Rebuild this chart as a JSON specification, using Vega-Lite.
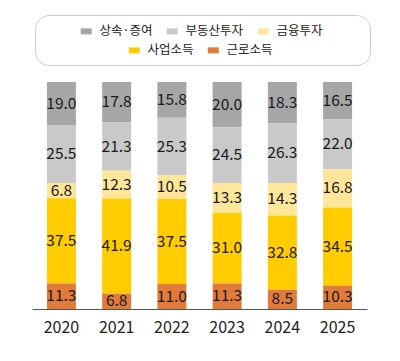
{
 "$schema": "https://vega.github.io/schema/vega-lite/v6.json",
 "width": 335, "height": 227,
 "autosize": "none",
 "padding": {"left": 32, "top": 82, "right": 33, "bottom": 52},
 "background": "white",
 "config": {"view": {"stroke": null}, "font": "Noto Sans CJK KR", "legend": {"gradientHorizontalMaxLength": 400}},
 "data": {"values": [
  {"year": "2020", "cat": "상속·증여", "value": 19.0},
  {"year": "2020", "cat": "부동산투자", "value": 25.5},
  {"year": "2020", "cat": "금융투자", "value": 6.8},
  {"year": "2020", "cat": "사업소득", "value": 37.5},
  {"year": "2020", "cat": "근로소득", "value": 11.3},
  {"year": "2021", "cat": "상속·증여", "value": 17.8},
  {"year": "2021", "cat": "부동산투자", "value": 21.3},
  {"year": "2021", "cat": "금융투자", "value": 12.3},
  {"year": "2021", "cat": "사업소득", "value": 41.9},
  {"year": "2021", "cat": "근로소득", "value": 6.8},
  {"year": "2022", "cat": "상속·증여", "value": 15.8},
  {"year": "2022", "cat": "부동산투자", "value": 25.3},
  {"year": "2022", "cat": "금융투자", "value": 10.5},
  {"year": "2022", "cat": "사업소득", "value": 37.5},
  {"year": "2022", "cat": "근로소득", "value": 11.0},
  {"year": "2023", "cat": "상속·증여", "value": 20.0},
  {"year": "2023", "cat": "부동산투자", "value": 24.5},
  {"year": "2023", "cat": "금융투자", "value": 13.3},
  {"year": "2023", "cat": "사업소득", "value": 31.0},
  {"year": "2023", "cat": "근로소득", "value": 11.3},
  {"year": "2024", "cat": "상속·증여", "value": 18.3},
  {"year": "2024", "cat": "부동산투자", "value": 26.3},
  {"year": "2024", "cat": "금융투자", "value": 14.3},
  {"year": "2024", "cat": "사업소득", "value": 32.8},
  {"year": "2024", "cat": "근로소득", "value": 8.5},
  {"year": "2025", "cat": "상속·증여", "value": 16.5},
  {"year": "2025", "cat": "부동산투자", "value": 22.0},
  {"year": "2025", "cat": "금융투자", "value": 16.8},
  {"year": "2025", "cat": "사업소득", "value": 34.5},
  {"year": "2025", "cat": "근로소득", "value": 10.3}
 ]},
 "transform": [
  {"calculate": "indexof(['근로소득','사업소득','금융투자','부동산투자','상속·증여'], datum.cat)", "as": "ord"},
  {"stack": "value", "groupby": ["year"], "sort": [{"field": "ord", "order": "ascending"}], "offset": "normalize", "as": ["y0", "y1"]},
  {"calculate": "(datum.y0 + datum.y1) / 2", "as": "mid"}
 ],
 "encoding": {
  "x": {"field": "year", "type": "nominal", "scale": {"paddingInner": 0.475, "paddingOuter": 0.27},
   "axis": {"title": null, "labelAngle": 0, "ticks": false, "domainColor": "#555555", "labelFontSize": 16, "labelColor": "#222222", "labelPadding": 10, "labelFont": "Noto Sans CJK KR"}}
 },
 "layer": [
  {
   "transform": [{"filter": {"field": "cat", "oneOf": ["상속·증여", "부동산투자", "금융투자"]}}],
   "mark": {"type": "bar"},
   "encoding": {
    "y": {"field": "y0", "type": "quantitative", "scale": {"domain": [0, 1]}, "axis": null},
    "y2": {"field": "y1"},
    "color": {"field": "cat", "type": "nominal",
     "scale": {"domain": ["상속·증여", "부동산투자", "금융투자"], "range": ["#a6a6a6", "#c9c9c9", "#ffe699"]},
     "legend": {"orient": "none", "legendX": 48, "legendY": -57, "direction": "horizontal", "title": null,
      "symbolType": "M-1,-0.55H1V0.55H-1Z", "symbolSize": 121, "symbolStrokeWidth": 0, "labelFontSize": 12.5,
      "labelOffset": 7, "columnPadding": 13, "labelColor": "#222222", "labelFont": "Noto Sans CJK KR"}}
   }
  },
  {
   "transform": [{"filter": {"field": "cat", "oneOf": ["사업소득", "근로소득"]}}],
   "mark": {"type": "bar"},
   "encoding": {
    "y": {"field": "y0", "type": "quantitative", "scale": {"domain": [0, 1]}, "axis": null},
    "y2": {"field": "y1"},
    "color": {"field": "cat", "type": "nominal",
     "scale": {"domain": ["사업소득", "근로소득"], "range": ["#ffcc00", "#e07b39"]},
     "legend": {"orient": "none", "legendX": 96, "legendY": -38, "direction": "horizontal", "title": null,
      "symbolType": "M-1,-0.55H1V0.55H-1Z", "symbolSize": 121, "symbolStrokeWidth": 0, "labelFontSize": 12.5,
      "labelOffset": 7, "columnPadding": 13, "labelColor": "#222222", "labelFont": "Noto Sans CJK KR"}}
   }
  },
  {
   "mark": {"type": "text", "fontSize": 15.5, "font": "Noto Sans CJK KR"},
   "encoding": {
    "y": {"field": "mid", "type": "quantitative", "scale": {"domain": [0, 1]}, "axis": null},
    "text": {"field": "value", "type": "quantitative", "format": ".1f"},
    "color": {"field": "value", "type": "quantitative", "scale": {"range": ["#1a1a1a", "#1a1a1a"]},
     "legend": {"orient": "none", "legendX": 3, "legendY": -67, "direction": "horizontal", "title": null,
      "gradientLength": 335, "gradientThickness": 49, "gradientOpacity": 0, "gradientStrokeWidth": 0,
      "labelOpacity": 0, "labelFontSize": 1, "labelOffset": 0, "padding": 0,
      "strokeColor": "#cccccc", "cornerRadius": 14}}
   }
  }
 ],
 "resolve": {"scale": {"color": "independent"}}
}
